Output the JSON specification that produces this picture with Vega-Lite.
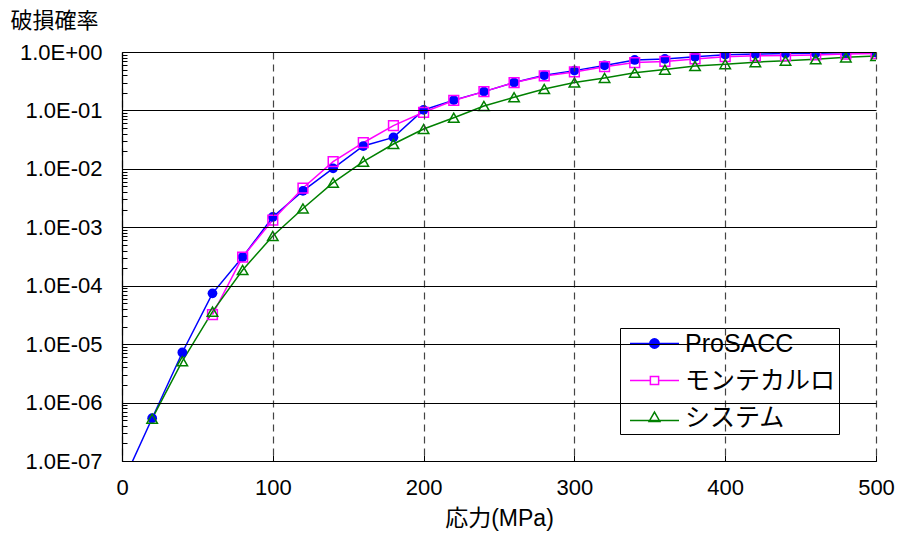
{
  "$schema": "https://vega.github.io/schema/vega-lite/v6.json",
  "width": 754,
  "height": 409,
  "autosize": {"type": "none"},
  "padding": {"left": 122, "top": 52, "right": 22, "bottom": 75},
  "background": "white",
  "config": {"view": {"stroke": null}},
  "data": {"values": [
    {"stress": 0, "prob": 4e-8, "series": "ProSACC"},
    {"stress": 20, "prob": 5.4e-7, "series": "ProSACC"},
    {"stress": 40, "prob": 7.2e-6, "series": "ProSACC"},
    {"stress": 60, "prob": 7.4e-5, "series": "ProSACC"},
    {"stress": 80, "prob": 3.1e-4, "series": "ProSACC"},
    {"stress": 100, "prob": 1.5e-3, "series": "ProSACC"},
    {"stress": 120, "prob": 4.2e-3, "series": "ProSACC"},
    {"stress": 140, "prob": 1.02e-2, "series": "ProSACC"},
    {"stress": 160, "prob": 2.46e-2, "series": "ProSACC"},
    {"stress": 180, "prob": 3.46e-2, "series": "ProSACC"},
    {"stress": 200, "prob": 0.102, "series": "ProSACC"},
    {"stress": 220, "prob": 0.15, "series": "ProSACC"},
    {"stress": 240, "prob": 0.21, "series": "ProSACC"},
    {"stress": 260, "prob": 0.30, "series": "ProSACC"},
    {"stress": 280, "prob": 0.40, "series": "ProSACC"},
    {"stress": 300, "prob": 0.48, "series": "ProSACC"},
    {"stress": 320, "prob": 0.59, "series": "ProSACC"},
    {"stress": 340, "prob": 0.73, "series": "ProSACC"},
    {"stress": 360, "prob": 0.76, "series": "ProSACC"},
    {"stress": 380, "prob": 0.83, "series": "ProSACC"},
    {"stress": 400, "prob": 0.90, "series": "ProSACC"},
    {"stress": 420, "prob": 0.92, "series": "ProSACC"},
    {"stress": 440, "prob": 0.94, "series": "ProSACC"},
    {"stress": 460, "prob": 0.95, "series": "ProSACC"},
    {"stress": 480, "prob": 0.97, "series": "ProSACC"},
    {"stress": 500, "prob": 0.98, "series": "ProSACC"},
    {"stress": 60, "prob": 3.2e-5, "series": "モンテカルロ"},
    {"stress": 80, "prob": 3.1e-4, "series": "モンテカルロ"},
    {"stress": 100, "prob": 1.33e-3, "series": "モンテカルロ"},
    {"stress": 120, "prob": 4.7e-3, "series": "モンテカルロ"},
    {"stress": 140, "prob": 1.33e-2, "series": "モンテカルロ"},
    {"stress": 160, "prob": 2.8e-2, "series": "モンテカルロ"},
    {"stress": 180, "prob": 5.5e-2, "series": "モンテカルロ"},
    {"stress": 200, "prob": 0.093, "series": "モンテカルロ"},
    {"stress": 220, "prob": 0.148, "series": "モンテカルロ"},
    {"stress": 240, "prob": 0.21, "series": "モンテカルロ"},
    {"stress": 260, "prob": 0.30, "series": "モンテカルロ"},
    {"stress": 280, "prob": 0.39, "series": "モンテカルロ"},
    {"stress": 300, "prob": 0.455, "series": "モンテカルロ"},
    {"stress": 320, "prob": 0.56, "series": "モンテカルロ"},
    {"stress": 340, "prob": 0.66, "series": "モンテカルロ"},
    {"stress": 360, "prob": 0.69, "series": "モンテカルロ"},
    {"stress": 380, "prob": 0.76, "series": "モンテカルロ"},
    {"stress": 400, "prob": 0.83, "series": "モンテカルロ"},
    {"stress": 420, "prob": 0.86, "series": "モンテカルロ"},
    {"stress": 440, "prob": 0.87, "series": "モンテカルロ"},
    {"stress": 460, "prob": 0.89, "series": "モンテカルロ"},
    {"stress": 480, "prob": 0.92, "series": "モンテカルロ"},
    {"stress": 500, "prob": 0.94, "series": "モンテカルロ"},
    {"stress": 20, "prob": 5.3e-7, "series": "システム"},
    {"stress": 40, "prob": 5.1e-6, "series": "システム"},
    {"stress": 60, "prob": 3.6e-5, "series": "システム"},
    {"stress": 80, "prob": 1.86e-4, "series": "システム"},
    {"stress": 100, "prob": 7.1e-4, "series": "システム"},
    {"stress": 120, "prob": 2.1e-3, "series": "システム"},
    {"stress": 140, "prob": 5.8e-3, "series": "システム"},
    {"stress": 160, "prob": 1.33e-2, "series": "システム"},
    {"stress": 180, "prob": 2.66e-2, "series": "システム"},
    {"stress": 200, "prob": 0.048, "series": "システム"},
    {"stress": 220, "prob": 0.075, "series": "システム"},
    {"stress": 240, "prob": 0.119, "series": "システム"},
    {"stress": 260, "prob": 0.168, "series": "システム"},
    {"stress": 280, "prob": 0.233, "series": "システム"},
    {"stress": 300, "prob": 0.30, "series": "システム"},
    {"stress": 320, "prob": 0.36, "series": "システム"},
    {"stress": 340, "prob": 0.44, "series": "システム"},
    {"stress": 360, "prob": 0.50, "series": "システム"},
    {"stress": 380, "prob": 0.576, "series": "システム"},
    {"stress": 400, "prob": 0.62, "series": "システム"},
    {"stress": 420, "prob": 0.67, "series": "システム"},
    {"stress": 440, "prob": 0.71, "series": "システム"},
    {"stress": 460, "prob": 0.75, "series": "システム"},
    {"stress": 480, "prob": 0.81, "series": "システム"},
    {"stress": 500, "prob": 0.855, "series": "システム"}
  ]},
  "encoding": {
    "x": {
      "field": "stress", "type": "quantitative",
      "scale": {"domain": [0, 500], "nice": false, "zero": false},
      "axis": {
        "values": [0, 100, 200, 300, 400, 500],
        "title": "応力(MPa)",
        "titleFont": "Liberation Sans, Noto Sans CJK JP",
        "titleFontSize": 23, "titleFontWeight": "normal", "titleColor": "black",
        "titlePadding": 9,
        "labelFont": "Liberation Sans", "labelFontSize": 22, "labelColor": "black",
        "labelPadding": 22, "labelFlush": false,
        "tickSize": -6, "tickColor": "black",
        "domainColor": "black", "domainWidth": 1.2,
        "grid": true, "gridColor": "#444", "gridDash": [7, 5], "gridWidth": 1.2,
        "zindex": 1
      }
    },
    "y": {
      "field": "prob", "type": "quantitative",
      "scale": {"type": "log", "domain": [1e-7, 1], "nice": false},
      "axis": {
        "values": [1e-7,2e-7,3e-7,4e-7,5e-7,6e-7,7e-7,8e-7,9e-7,
                   1e-6,2e-6,3e-6,4e-6,5e-6,6e-6,7e-6,8e-6,9e-6,
                   1e-5,2e-5,3e-5,4e-5,5e-5,6e-5,7e-5,8e-5,9e-5,
                   1e-4,2e-4,3e-4,4e-4,5e-4,6e-4,7e-4,8e-4,9e-4,
                   1e-3,2e-3,3e-3,4e-3,5e-3,6e-3,7e-3,8e-3,9e-3,
                   1e-2,2e-2,3e-2,4e-2,5e-2,6e-2,7e-2,8e-2,9e-2,
                   1e-1,2e-1,3e-1,4e-1,5e-1,6e-1,7e-1,8e-1,9e-1,1],
        "labelExpr": "abs(log(datum.value)/LN10 - round(log(datum.value)/LN10)) > 0.001 ? '' : '1.0E' + (datum.value > 0.5 ? '+00' : '-0' + format(-round(log(datum.value)/LN10), 'd'))",
        "labelFont": "Liberation Sans", "labelFontSize": 22, "labelColor": "black",
        "labelPadding": 29, "labelFlush": false, "labelOverlap": false,
        "tickSize": {"condition": {"test": "abs(log(datum.value)/LN10 - round(log(datum.value)/LN10)) < 0.001", "value": -9}, "value": -5},
        "tickColor": "black",
        "domainColor": "black", "domainWidth": 1.2,
        "grid": true, "gridColor": "black", "gridWidth": 1.2,
        "gridOpacity": {"condition": {"test": "abs(log(datum.value)/LN10 - round(log(datum.value)/LN10)) < 0.001", "value": 1}, "value": 0},
        "title": "破損確率",
        "titleFont": "Noto Sans CJK JP", "titleFontSize": 22, "titleFontWeight": "normal", "titleColor": "black",
        "titleAngle": 0, "titleAlign": "left", "titleBaseline": "middle",
        "titleX": -112, "titleY": -32,
        "zindex": 1
      }
    }
  },
  "layer": [
    {
      "transform": [{"filter": "datum.series === 'ProSACC'"}],
      "mark": {"type": "line", "strokeWidth": 1.5, "color": "#0000ff", "clip": true},
      "encoding": {}
    },
    {
      "transform": [{"filter": "datum.series === 'モンテカルロ'"}],
      "mark": {"type": "line", "strokeWidth": 1.5, "color": "#ff00ff", "clip": true},
      "encoding": {}
    },
    {
      "transform": [{"filter": "datum.series === 'システム'"}],
      "mark": {"type": "line", "strokeWidth": 1.5, "color": "#008000", "clip": true},
      "encoding": {}
    },
    {
      "mark": {"type": "point", "opacity": 0, "filled": false, "clip": true},
      "encoding": {
        "color": {
          "field": "series", "type": "nominal",
          "scale": {"domain": ["ProSACC", "モンテカルロ", "システム"], "range": ["#0000ff", "#ff00ff", "#008000"]},
          "legend": {
            "orient": "none", "legendX": 498, "legendY": 276,
            "title": null,
            "fillColor": "white", "strokeColor": "black",
            "padding": 3,
            "labelFont": "Liberation Sans, Noto Sans CJK JP", "labelFontSize": 25, "labelColor": "black",
            "symbolSize": 384, "symbolStrokeWidth": 1.5, "symbolOffset": 19,
            "labelOffset": 18, "rowPadding": 11,
            "encode": {"symbols": {"update": {"opacity": {"value": 1}, "strokeWidth": {"value": 1.5}}}}
          }
        },
        "shape": {
          "field": "series", "type": "nominal",
          "scale": {"domain": ["ProSACC", "モンテカルロ", "システム"], "range": [
            "M-2.5,0H2.5M0.48,0A0.48,0.48,0,1,1,-0.48,0A0.48,0.48,0,1,1,0.48,0ZM0.34,0A0.34,0.34,0,1,1,-0.34,0A0.34,0.34,0,1,1,0.34,0ZM0.2,0A0.2,0.2,0,1,1,-0.2,0A0.2,0.2,0,1,1,0.2,0ZM0.07,0A0.07,0.07,0,1,1,-0.07,0A0.07,0.07,0,1,1,0.07,0Z",
            "M-2.5,0H-0.42M0.42,0H2.5M-0.42,-0.42H0.42V0.42H-0.42Z",
            "M-2.5,0.3H2.5M0,-0.55L0.55,0.4L-0.55,0.4Z"
          ]}
        }
      }
    },
    {
      "transform": [{"filter": "datum.series === 'ProSACC'"}],
      "mark": {"type": "point", "shape": "circle", "filled": true, "color": "#0000ff", "size": 95, "opacity": 1, "clip": true}
    },
    {
      "transform": [{"filter": "datum.series === 'モンテカルロ'"}],
      "mark": {"type": "point", "shape": "square", "filled": false, "color": "#ff00ff", "strokeWidth": 1.5, "size": 95, "opacity": 1, "clip": true}
    },
    {
      "transform": [{"filter": "datum.series === 'システム'"}],
      "mark": {"type": "point", "shape": "triangle-up", "filled": false, "color": "#008000", "strokeWidth": 1.5, "size": 110, "opacity": 1, "clip": true}
    }
  ]
}
